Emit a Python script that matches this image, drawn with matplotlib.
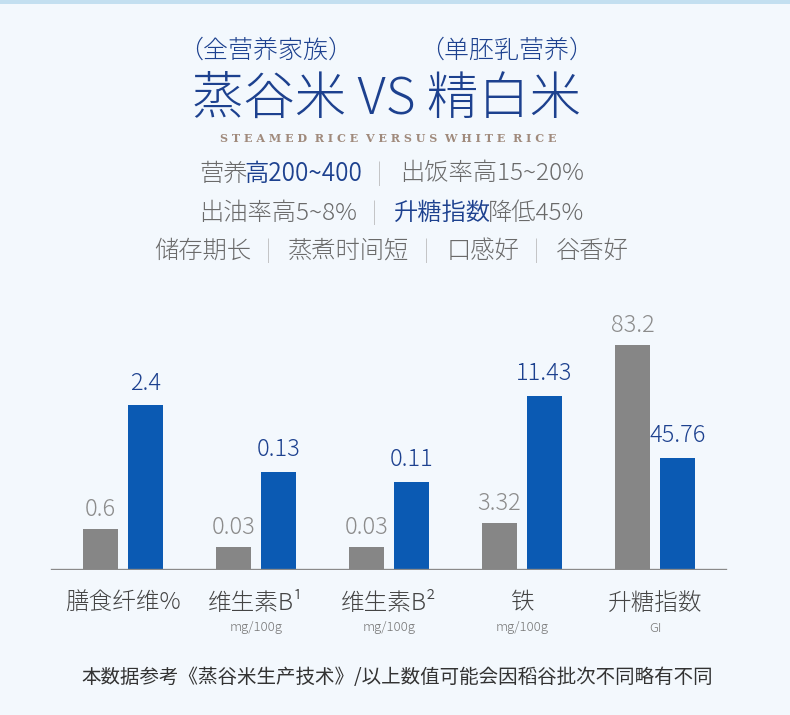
import numpy as np
import matplotlib.pyplot as plt

plt.rcParams['font.family'] = ['Noto Sans CJK JP', 'DejaVu Sans']

# data
categories = ["膳食纤维%", "维生素B¹", "维生素B²", "铁", "升糖指数"]
units = ["", "mg/100g", "mg/100g", "mg/100g", "GI"]
white_labels = ["0.6", "0.03", "0.03", "3.32", "83.2"]
steamed_labels = ["2.4", "0.13", "0.11", "11.43", "45.76"]
# bar heights as drawn (the picture scales each group on its own)
white_heights = [41, 23, 23, 47, 225]
steamed_heights = [165, 98, 88, 174, 112]

BG = "#f3f8fd"
GRAY_BAR = "#868686"
BLUE_BAR = "#0b5ab3"
DARK_BLUE = "#1d418f"
TEXT_GRAY = "#6a6a6a"
SEP = "#a8a8a8"

W, H = 790, 715
fig = plt.figure(figsize=(W / 100, H / 100), dpi=100, facecolor=BG)

# thin strip at the very top
strip = fig.add_axes([0, 1 - 4 / H, 1, 4 / H])
strip.set_axis_off()
strip.add_patch(plt.Rectangle((0, 0), 1, 1, color="#c3dff0", transform=strip.transAxes))


def fx(px):
    return px / W


def fy(py):
    return 1 - py / H


renderer = fig.canvas.get_renderer()


def draw_segments(xc, yc, segs, size, pad=20):
    # segs: list of (text, color, weight); text None means a separator bar
    items = []
    for s, c, wt in segs:
        if s is None:
            t = fig.text(0, fy(yc), "|", color=SEP, fontsize=size * 0.9,
                         weight=100, ha="center", va="center")
            items.append((t, 2 * pad, True))
        else:
            t = fig.text(0, fy(yc), s, color=c, fontsize=size, weight=wt,
                         ha="left", va="center")
            items.append((t, t.get_window_extent(renderer).width - 3, False))
    x = xc - sum(w for _, w, _ in items) / 2
    for t, w, is_sep in items:
        t.set_x(fx(x + w / 2 if is_sep else x))
        x += w


# header
fig.text(fx(266), fy(50), "（全营养家族）", fontsize=18, color=DARK_BLUE,
         ha="center", va="center", weight=300)
fig.text(fx(507), fy(50), "（单胚乳营养）", fontsize=18, color=DARK_BLUE,
         ha="center", va="center", weight=300)
fig.text(fx(387), fy(99), "蒸谷米 VS 精白米", fontsize=37, color=DARK_BLUE,
         ha="center", va="center", weight=300)
fig.text(fx(388), fy(138), "  ".join(" ".join(w) for w in
                                     "STEAMED RICE VERSUS WHITE RICE".split()),
         fontsize=8, color="#a08a7c", ha="center", va="center",
         family="DejaVu Serif", weight="bold")

L, R = 300, 350
draw_segments(390, 174, [("营养", TEXT_GRAY, L), ("高200~400", DARK_BLUE, R), (None, None, L),
                         ("出饭率高15~20%", TEXT_GRAY, L)], 17.5)
draw_segments(390, 213, [("出油率高5~8%", TEXT_GRAY, L), (None, None, L),
                         ("升糖指数", DARK_BLUE, R), ("降低45%", TEXT_GRAY, L)], 17.5)
draw_segments(390, 251, [("储存期长", TEXT_GRAY, L), (None, None, L), ("蒸煮时间短", TEXT_GRAY, L),
                         (None, None, L), ("口感好", TEXT_GRAY, L), (None, None, L),
                         ("谷香好", TEXT_GRAY, L)], 17.5)

# bars: baseline at pixel y=570, top of area at y=300, group spacing 133 px
step = 133.0
x0 = 123.0
ax = fig.add_axes([0, fy(570), 1, 270 / H])
ax.set_facecolor("none")
ax.set_xlim(-x0 / step, (W - x0) / step)
ax.set_ylim(0, 270)
ax.set_axis_off()

x = np.arange(len(categories))
bw = 35 / step
off = 22.5 / step
ax.bar(x - off, white_heights, width=bw, color=GRAY_BAR)
ax.bar(x + off, steamed_heights, width=bw, color=BLUE_BAR)
ax.axhline(0, xmin=fx(52), xmax=fx(725), color="#8a8a8a", lw=2.4)

for i in range(len(categories)):
    ax.text(x[i] - off, white_heights[i] + 20, white_labels[i], fontsize=17,
            color="#8c8c8c", ha="center", va="center", weight=300)
    ax.text(x[i] + off, steamed_heights[i] + 22, steamed_labels[i], fontsize=17,
            color=DARK_BLUE, ha="center", va="center", weight=300)
    fig.text(fx(x0 + step * i), fy(603), categories[i], fontsize=17,
             color="#444444", ha="center", va="center", weight=300)
    if units[i]:
        fig.text(fx(x0 + step * i), fy(628), units[i], fontsize=9.5,
                 color="#777777", ha="center", va="center", weight=300)

fig.text(fx(397), fy(678), "本数据参考《蒸谷米生产技术》/以上数值可能会因稻谷批次不同略有不同",
         fontsize=14, color="#333333", ha="center", va="center")

fig.savefig("out.png", dpi=100, facecolor=BG)
